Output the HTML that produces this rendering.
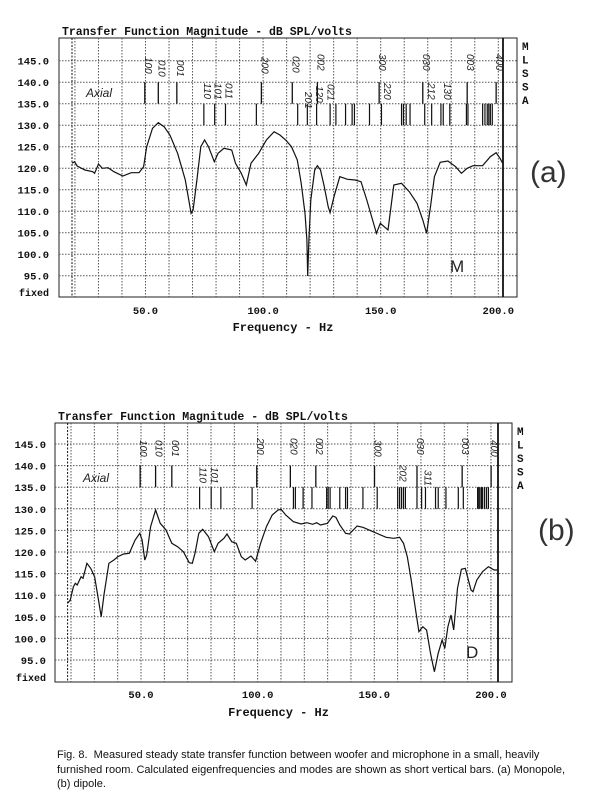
<!DOCTYPE html>
<html><head><meta charset="utf-8"><style>
body{margin:0;background:#fff;}
svg{display:block}
.m{font-family:"Liberation Mono",monospace;font-weight:bold;fill:#111}
.h{font-family:"Liberation Sans",sans-serif;fill:#222;font-style:italic}
.cap{position:absolute;left:57px;top:748px;width:545px;white-space:nowrap;font:11px/14.5px "Liberation Sans",Arial,sans-serif;color:#111}
</style></head><body>
<div style="position:relative;width:600px;height:805px;overflow:hidden">
<svg id="s" width="600" height="805" xmlns="http://www.w3.org/2000/svg"></svg>
<div class="cap">Fig. 8.&nbsp; Measured steady state transfer function between woofer and microphone in a small, heavily<br>furnished room. Calculated eigenfrequencies and modes are shown as short vertical bars. (a) Monopole,<br>(b) dipole.</div>
</div>
<script>
const S=document.getElementById('s');let h='';
function chart(c){
 const sx=2.59,sy=3;
 h+=`<text class="m" x="${c.left+3}" y="${c.titleY}" font-size="11.5">Transfer Function Magnitude - dB SPL/volts</text>`;
 h+=`<rect x="${c.left}" y="${c.top}" width="${c.right-c.left}" height="${c.bottom-c.top}" fill="none" stroke="#222" stroke-width="1"/>`;
 for(let d=95;d<=145;d+=5){const y=c.y145+(145-d)*c.dy;
  h+=`<line x1="${c.left}" x2="${c.right}" y1="${y}" y2="${y}" stroke="#555" stroke-width="1" stroke-dasharray="1.5,1.5"/>`;
  h+=`<text class="m" x="${c.lx}" y="${y+4}" font-size="10.5" text-anchor="end">${d.toFixed(1)}</text>`;}
 for(let f=20;f<=200;f+=10){const x=c.x50+(f-50)*c.ph;
  h+=`<line x1="${x}" x2="${x}" y1="${c.top}" y2="${c.bottom}" stroke="#555" stroke-width="1" stroke-dasharray="1.5,1.5"/>`;}
 for(const f of [50,100,150,200]){const x=c.x50+(f-50)*c.ph;
  h+=`<text class="m" x="${x}" y="${c.xlY}" font-size="10.5" text-anchor="middle">${f.toFixed(1)}</text>`;}
 h+=`<text class="m" x="${c.lx}" y="${c.bottom-1}" font-size="10" text-anchor="end">fixed</text>`;
 h+=`<text class="m" x="${(c.left+c.right)/2-5}" y="${c.fY}" font-size="12" text-anchor="middle">Frequency - Hz</text>`;
 h+=`<line x1="${c.dot}" x2="${c.dot}" y1="${c.top}" y2="${c.bottom}" stroke="#111" stroke-dasharray="2,1.5"/>`;
 h+=`<line x1="${c.thick}" x2="${c.thick}" y1="${c.top}" y2="${c.bottom}" stroke="#111" stroke-width="1.8"/>`;
 "MLSSA".split('').forEach((ch,i)=>{h+=`<text class="m" x="${c.right+5}" y="${c.top+12+i*13.5}" font-size="11">${ch}</text>`;});
 const y140=c.y145+5*c.dy,y135=c.y145+10*c.dy,y130=c.y145+15*c.dy;
 c.ax.forEach(x=>h+=`<line x1="${x/sx}" x2="${x/sx}" y1="${y140}" y2="${y135}" stroke="#111" stroke-width="1.3"/>`);
 c.na.forEach(x=>h+=`<line x1="${x/sx}" x2="${x/sx}" y1="${y135}" y2="${y130}" stroke="#111" stroke-width="1.2"/>`);
 c.labs.forEach(([t,x,y])=>h+=`<text class="h" font-size="10" transform="translate(${x/sx},${y}) rotate(90)">${t}</text>`);
 h+=`<text class="h" x="${c.axialX}" y="${c.axialY}" font-size="12">Axial</text>`;
 h+=`<polyline fill="none" stroke="#111" stroke-width="1.2" points="${c.pts.map(p=>(p[0]/sx).toFixed(1)+','+(p[1]/sy+c.oy).toFixed(1)).join(' ')}"/>`;
 h+=`<text x="${c.hx}" y="${c.hy}" font-size="30" font-family="DejaVu Sans ExtraLight, Liberation Sans, sans-serif" font-weight="200" fill="#333">${c.hand}</text>`;
 h+=`<text class="h" x="${c.mx}" y="${c.my}" font-size="17" style="font-style:normal">${c.mk}</text>`;
}
chart({left:59,top:38,right:517,bottom:297,titleY:35,y145:60.7,dy:4.3,x50:145.5,ph:2.352,lx:49,xlY:314,fY:331,dot:72,thick:503,oy:0,
ax:[375,410,458,677,757,822,982,1095,1210,1285],
na:[528,556,584,664,771,796,820,855,870,895,912,918,957,988,1040,1045,1052,1062,1100,1118,1142,1148,1165,1208,1212,1250,1256,1262,1266,1270,1275],
labs:[["100",375,57],["010",410,60],["001",458,60],["200",677,57],["020",757,56],["002",822,54],["300",982,54],["030",1095,54],["003",1210,54],["400",1285,54],
["110",528,83],["101",556,83],["011",584,83],["201",790,92],["120",818,86],["021",848,84],["220",995,83],["212",1108,83],["130",1150,83]],
axialX:86,axialY:97,hx:530,hy:182,hand:"(a)",mx:450,my:272,mk:"M",
pts:[[187,490],[193,485],[200,498],[220,510],[240,515],[245,520],[255,492],[265,505],[280,503],[295,515],[318,528],[340,518],[360,518],[372,500],[380,440],[395,385],[410,368],[425,380],[440,405],[460,460],[480,540],[495,640],[500,630],[510,540],[520,440],[530,420],[540,440],[555,485],[565,460],[580,445],[600,450],[610,490],[625,520],[638,555],[650,490],[670,460],[690,420],[710,395],[725,405],[740,420],[755,440],[770,480],[780,550],[790,640],[795,720],[797,828],[800,720],[805,600],[815,510],[822,497],[830,510],[840,560],[850,620],[855,638],[865,590],[880,530],[900,538],[920,540],[935,545],[950,600],[965,660],[975,700],[985,670],[995,680],[1005,690],[1020,555],[1040,550],[1060,575],[1080,610],[1095,660],[1105,700],[1115,620],[1125,530],[1140,487],[1160,483],[1180,500],[1195,520],[1210,505],[1225,497],[1250,497],[1270,470],[1285,458],[1295,475],[1302,490]]});
chart({left:55,top:423,right:512,bottom:682,titleY:420,y145:444,dy:4.32,x50:141,ph:2.333,lx:46,xlY:698,fY:716,dot:67.6,thick:498,oy:400,
ax:[363,403,445,665,752,818,970,1080,1197,1272],
na:[517,547,572,653,760,765,785,808,846,850,855,880,895,900,940,977,1030,1035,1040,1045,1050,1080,1092,1102,1128,1135,1155,1187,1200,1237,1240,1243,1247,1250,1255,1260,1265],
labs:[["100",363,440],["010",403,440],["001",445,440],["200",665,438],["020",752,438],["002",818,438],["300",970,440],["030",1080,438],["003",1197,438],["400",1272,440],
["110",517,467],["101",547,467],["202",1035,465],["311",1100,470]],
axialX:83,axialY:482,hx:538,hy:540,hand:"(b)",mx:466,my:658,mk:"D",
pts:[[175,610],[182,600],[190,560],[195,550],[200,555],[210,530],[215,535],[225,490],[235,505],[245,530],[255,600],[262,650],[270,580],[282,490],[295,480],[305,470],[320,462],[335,460],[350,420],[362,400],[368,420],[375,480],[380,465],[390,380],[403,330],[415,370],[430,390],[445,430],[460,440],[475,455],[490,488],[498,490],[505,460],[515,400],[525,388],[540,410],[555,455],[565,430],[580,415],[588,402],[600,425],[612,430],[625,470],[635,480],[650,468],[662,484],[675,430],[690,380],[705,345],[720,330],[728,328],[740,345],[760,365],[780,372],[795,368],[810,373],[820,368],[830,375],[848,370],[862,348],[870,352],[880,375],[895,400],[905,402],[925,378],[940,382],[960,392],[980,402],[1000,412],[1020,415],[1035,412],[1045,430],[1055,470],[1065,540],[1075,620],[1085,695],[1095,680],[1105,690],[1115,760],[1125,815],[1135,760],[1145,720],[1152,745],[1160,680],[1168,645],[1175,690],[1185,565],[1195,508],[1205,505],[1220,570],[1225,575],[1235,540],[1250,515],[1265,500],[1280,510],[1290,510]]});
S.innerHTML=h;
</script>
</body></html>
